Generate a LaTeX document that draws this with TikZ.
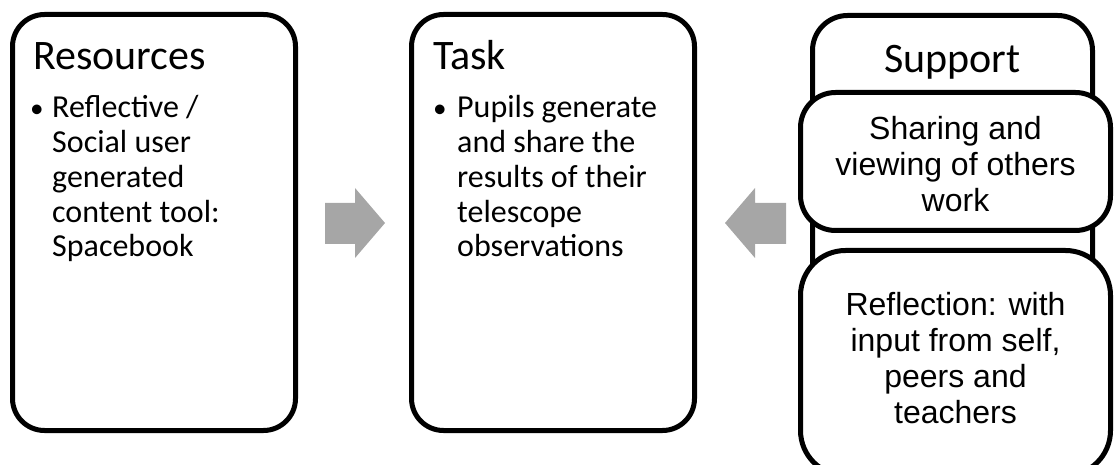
\documentclass[tikz,border=0pt]{standalone}
\usepackage{fontspec}
\setmainfont{Carlito}
\newfontfamily\arialfont{Liberation Sans}
\definecolor{arrowgray}{HTML}{A6A6A6}

\begin{document}
\begin{tikzpicture}[x=1pt,y=-1pt,
  panel/.style={draw=black, line width=5pt, rounded corners=32pt, fill=white, inner sep=0pt},
  title/.style={font=\fontsize{42}{48}\selectfont, inner sep=0pt},
  body/.style={font=\fontsize{32}{34.75}\selectfont, align=left, anchor=base west, inner sep=0pt},
  subtext/.style={font=\arialfont\fontsize{32}{36}\selectfont, align=center, anchor=base, inner sep=0pt},
  blockarrow/.style={fill=arrowgray, draw=none}]
\useasboundingbox (0,0) rectangle (1114,465);
\clip (0,0) rectangle (1114,465);

% Resources column (text blocks are placed by the baseline of their last line)
\node[panel, minimum width=283pt, minimum height=416pt] (res) at (154,222.5) {};
\node[title, anchor=base west] (resT) at (33,70) {Resources};
\node[body] (resB) at (33,257)
  {\makebox[19pt][l]{\hspace*{-3pt}\scalebox{0.85}{•}}Reflective /\\\hspace*{19pt}Social user\\\hspace*{19pt}generated\\\hspace*{19pt}content tool:\\\hspace*{19pt}Spacebook};

% Task column
\node[panel, minimum width=283pt, minimum height=416pt] (task) at (553,222.5) {};
\node[title, anchor=base west] (taskT) at (433,70) {Task};
\node[body] (taskB) at (433,257)
  {\makebox[24pt][l]{\scalebox{0.85}{•}}Pupils generate\\\hspace*{24pt}and share the\\\hspace*{24pt}results of their\\\hspace*{24pt}telescope\\\hspace*{24pt}observations};

% Support column with its two stacked boxes
\node[panel, rounded corners=35pt, minimum width=280pt, minimum height=430pt] (sup) at (952.5,230.5) {};
\node[title, anchor=base] (supT) at (952.5,73) {Support};
\node[panel, rounded corners=35pt, minimum width=310pt, minimum height=138pt] (share) at (955.5,161.5) {};
\node[subtext] (shareT) at (955.5,212) {Sharing and\\viewing of others\\work};
\node[panel, rounded corners=45pt, minimum width=310pt, minimum height=225pt] (refl) at (955.5,363) {};
\node[subtext] (reflT) at (955.5,423) {Reflection: with\\input from self,\\peers and\\teachers};

% Block arrows pointing into the Task column
\fill[blockarrow] (325,203) -- (355,203) -- (355,188) -- (385,223) -- (355,258) -- (355,244) -- (325,244) -- cycle;
\fill[blockarrow] (786,203) -- (755,203) -- (755,188) -- (725,223) -- (755,258) -- (755,244) -- (786,244) -- cycle;
\end{tikzpicture}
\end{document}
